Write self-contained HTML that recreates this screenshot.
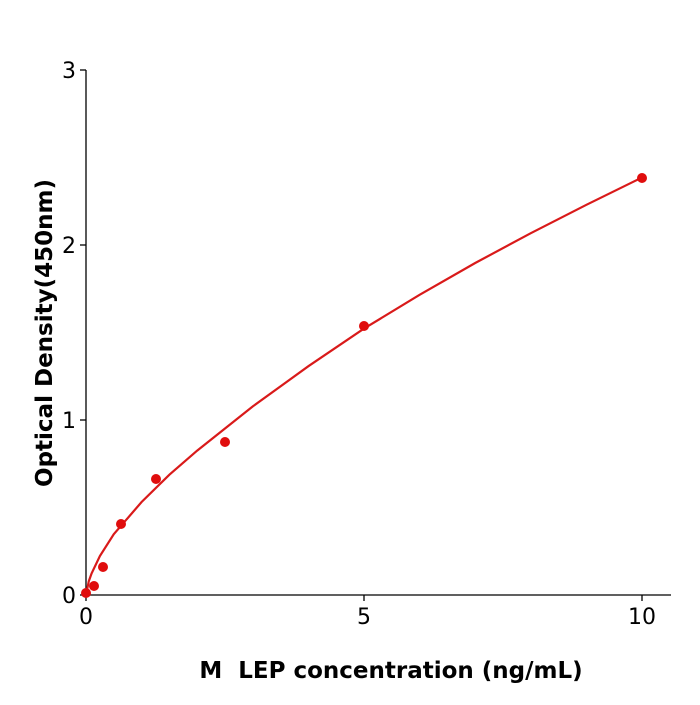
<!DOCTYPE html>
<html><head><meta charset="utf-8"><style>
html,body{margin:0;padding:0;background:#fff;}
svg text{font-family:"DejaVu Sans","Liberation Sans",sans-serif;}
</style></head><body>
<svg width="700" height="700" viewBox="0 0 700 700" xmlns="http://www.w3.org/2000/svg">
<g stroke="#000" stroke-width="1.3" fill="none">
<line x1="86" y1="70" x2="86" y2="595.5"/>
<line x1="85.5" y1="595" x2="671" y2="595"/>
<line x1="80" y1="70" x2="86" y2="70"/>
<line x1="80" y1="245" x2="86" y2="245"/>
<line x1="80" y1="420" x2="86" y2="420"/>
<line x1="80" y1="595" x2="86" y2="595"/>
<line x1="86" y1="595" x2="86" y2="601"/>
<line x1="364" y1="595" x2="364" y2="601"/>
<line x1="642" y1="595" x2="642" y2="601"/>
</g>
<g font-size="22" fill="#000">
<text x="76" y="78" text-anchor="end">3</text>
<text x="76" y="253" text-anchor="end">2</text>
<text x="76" y="428" text-anchor="end">1</text>
<text x="76" y="603" text-anchor="end">0</text>
<text x="86" y="624" text-anchor="middle">0</text>
<text x="364" y="624" text-anchor="middle">5</text>
<text x="642" y="624" text-anchor="middle">10</text>
</g>
<text x="391" y="678" text-anchor="middle" font-size="23" font-weight="bold">M&#160; LEP concentration (ng/mL)</text>
<text transform="translate(52,333) rotate(-90)" text-anchor="middle" font-size="23" font-weight="bold">Optical Density(450nm)</text>
<polyline fill="none" stroke="#d91a1a" stroke-width="2.2" points="86,595 88.8,581.2 91.6,573.4 99.9,556 113.8,534.2 141.6,502 169.4,474.7 197.2,450.6 252.8,406.4 308.4,366.2 364,328.6 419.6,294.8 475.2,263 530.8,233.2 586.4,204.8 642,177.5"/>
<g fill="#e00d0d">
<circle cx="86" cy="593" r="5"/>
<circle cx="94" cy="586" r="5"/>
<circle cx="103" cy="567" r="5"/>
<circle cx="121" cy="524" r="5"/>
<circle cx="156" cy="479" r="5"/>
<circle cx="225" cy="442" r="5"/>
<circle cx="364" cy="326" r="5"/>
<circle cx="642" cy="178" r="5"/>
</g>
</svg>
</body></html>
